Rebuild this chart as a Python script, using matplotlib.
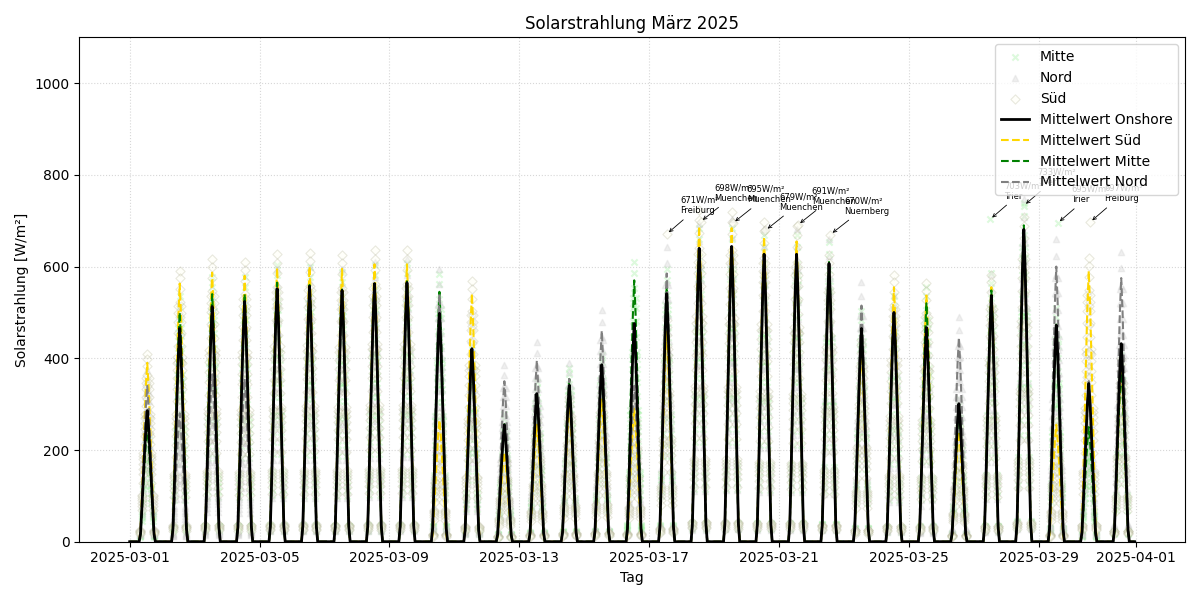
import numpy as np
import pandas as pd
import matplotlib
matplotlib.use("Agg")
import matplotlib.pyplot as plt

# ---------------- data ----------------
days = pd.date_range("2025-03-01", "2025-03-31", freq="D")
times = pd.date_range("2025-03-01 00:00", "2025-03-31 23:00", freq="h")

# relative hourly profile (hours 7..19)
profile_hours = [7, 8, 9, 10, 11, 12, 13, 14, 15, 16, 17, 18, 19]
profile = [0.0, 0.06, 0.25, 0.47, 0.68, 0.87, 1.0, 0.87, 0.68, 0.47, 0.25, 0.06, 0.0]

# daily peak of each mean curve [W/m²]
onshore_peak = [286, 465, 513, 524, 552, 557, 548, 563, 565, 498, 421, 255, 323, 341, 386, 476,
                541, 640, 644, 627, 627, 607, 465, 500, 467, 301, 537, 681, 472, 345, 432]
sued_peak = [390, 563, 587, 580, 597, 600, 595, 605, 605, 265, 541, 195, 255, 301, 310, 290,
             460, 688, 684, 665, 655, 595, 420, 555, 537, 240, 555, 675, 255, 590, 380]
mitte_peak = [250, 500, 540, 540, 565, 560, 550, 565, 568, 545, 400, 260, 325, 355, 380, 570,
              555, 640, 640, 625, 625, 610, 470, 500, 520, 290, 548, 690, 476, 250, 380]
nord_peak = [340, 280, 365, 355, 540, 545, 540, 555, 560, 540, 380, 350, 395, 355, 460, 340,
             585, 630, 640, 620, 620, 600, 515, 490, 450, 445, 530, 680, 600, 350, 575]

# station level relative to their region mean
stations_sued = ["Freiburg", "Muenchen", "Nuernberg", "Stuttgart", "Regensburg", "Augsburg", "Wuerzburg"]
factors_sued = [1.05, 1.02, 0.98, 0.93, 0.87, 0.8, 0.7]
stations_mitte = ["Trier", "Frankfurt", "Kassel", "Erfurt", "Leipzig", "Koeln"]
factors_mitte = [1.07, 1.03, 0.97, 0.9, 0.82, 0.72]
stations_nord = ["Hamburg", "Bremen", "Hannover", "Rostock", "Kiel", "Emden"]
factors_nord = [1.1, 1.04, 0.97, 0.9, 0.8, 0.7]

# top station values (annotated)
top_times = ["2025-03-17 13:00", "2025-03-18 14:00", "2025-03-19 14:00", "2025-03-20 14:00",
             "2025-03-21 14:00", "2025-03-22 14:00", "2025-03-27 12:00", "2025-03-28 13:00",
             "2025-03-29 14:00", "2025-03-30 14:00"]
top_values = [671, 698, 695, 679, 691, 670, 703, 733, 695, 697]
top_names = ["Freiburg", "Muenchen", "Muenchen", "Muenchen", "Muenchen", "Nuernberg",
             "Trier", "Trier", "Trier", "Freiburg"]
top_region = ["Süd", "Süd", "Süd", "Süd", "Süd", "Süd", "Mitte", "Mitte", "Mitte", "Süd"]


def hourly(peaks, factor=1.0):
    vals = np.zeros((len(peaks), 24))
    for d, p in enumerate(peaks):
        vals[d, profile_hours] = p * factor * np.array(profile)
    return vals.ravel()


onshore = hourly(onshore_peak)
sued = hourly(sued_peak)
mitte = hourly(mitte_peak)
nord = hourly(nord_peak)


def station_points(peaks, factors, region):
    t_list, v_list = [], []
    for f in factors:
        v = hourly(peaks, f)
        m = v > 0
        t_list.append(np.asarray(times[m]))
        v_list.append(v[m])
    for tt, vv, rr in zip(top_times, top_values, top_region):
        if rr == region:
            t_list.append(np.asarray([pd.Timestamp(tt)], dtype="datetime64[ns]"))
            v_list.append(np.array([vv]))
    return np.concatenate(t_list), np.concatenate(v_list)


t_mi, v_mi = station_points(mitte_peak, factors_mitte, "Mitte")
t_no, v_no = station_points(nord_peak, factors_nord, "Nord")
t_su, v_su = station_points(sued_peak, factors_sued, "Süd")

# ---------------- plot ----------------
fig, ax = plt.subplots(figsize=(12, 6), dpi=100)

ax.scatter(t_mi, v_mi, marker="x", color="lightgreen", alpha=0.3, s=20, label="Mitte")
ax.scatter(t_no, v_no, marker="^", color="lightgray", alpha=0.35, s=20, label="Nord")
ax.scatter(t_su, v_su, marker="D", facecolors="#fffff0", edgecolors="#b4b498", alpha=0.3,
           s=22, linewidths=0.8, label="Süd")

ax.plot(times, onshore, color="black", lw=2, label="Mittelwert Onshore", zorder=4)
ax.plot(times, sued, color="gold", ls="--", lw=1.5, label="Mittelwert Süd")
ax.plot(times, mitte, color="green", ls="--", lw=1.5, label="Mittelwert Mitte")
ax.plot(times, nord, color="gray", ls="--", lw=1.5, label="Mittelwert Nord")

for tt, vv, nn in zip(top_times, top_values, top_names):
    ax.annotate(f"{vv}W/m²\n{nn}", xy=(pd.Timestamp(tt), vv), xytext=(10, 15),
                textcoords="offset points", fontsize=6,
                arrowprops=dict(arrowstyle="->", color="black", lw=0.6))

ax.set_ylim(0, 1100)
ax.set_title("Solarstrahlung März 2025")
ax.set_xlabel("Tag")
ax.set_ylabel("Solarstrahlung [W/m²]")
ax.grid(True, linestyle=":", alpha=0.5)
ax.legend(loc="upper right")

fig.tight_layout()
fig.savefig("out.png")
